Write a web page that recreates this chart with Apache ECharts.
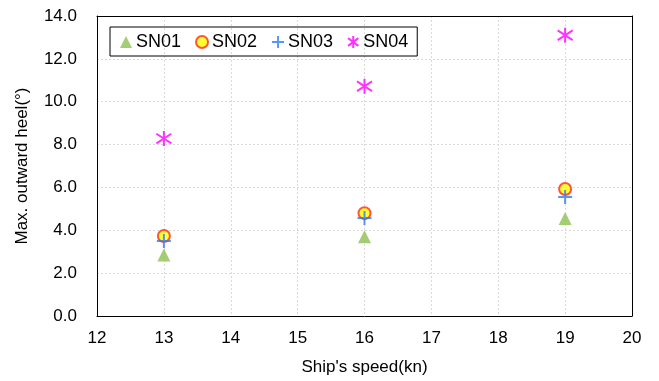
<!DOCTYPE html>
<html><head><meta charset="utf-8">
<script src="https://cdn.jsdelivr.net/npm/echarts@6/dist/echarts.min.js"></script>
<style>html,body{margin:0;padding:0;background:#fff}#c{width:659px;height:381px}</style>
</head><body><div id="c"></div>
<script>
const speeds = [13, 16, 19];
const sn01 = [2.85, 3.7, 4.55];
const sn02 = [3.73, 4.8, 5.93];
const sn03 = [3.5, 4.57, 5.55];
const sn04 = [8.28, 10.72, 13.1];
const seriesNames = ['SN01', 'SN02', 'SN03', 'SN04'];

const F = '"Liberation Sans", Arial, sans-serif';
const pair = a => speeds.map((s, i) => [s, a[i]]);
const plusPath = 'path://M0,-6L0,6M-6,0L6,0';
const starPath = 'path://M0,-7L0,7M-6,-4.5L6,4.5M-6,4.5L6,-4.5';
const dash = {show: true, lineStyle: {color: '#d9d9d9', type: [2, 2]}};
const frameLine = {show: true, onZero: false, lineStyle: {color: '#000', width: 1}};

const chart = echarts.init(document.getElementById('c'));
chart.setOption({
  animation: false,
  grid: {left: 97, right: 27, top: 16, bottom: 65},
  legend: {
    left: 110, top: 27, itemGap: 14, itemWidth: 12, itemHeight: 12,
    padding: [6, 9, 5, 10],
    borderColor: '#000', borderWidth: 1,
    textStyle: {fontFamily: F, fontSize: 18, color: '#000', padding: [0, 0, 0, -1]},
    data: seriesNames
  },
  xAxis: [{
    type: 'value', min: 12, max: 20, interval: 1,
    name: "Ship's speed(kn)", nameLocation: 'middle', nameGap: 43,
    nameTextStyle: {fontFamily: F, fontSize: 17, color: '#000'},
    axisLine: frameLine, axisTick: {show: false},
    axisLabel: {fontFamily: F, fontSize: 17, color: '#000', margin: 14},
    splitLine: dash
  }, {
    type: 'value', position: 'top', min: 12, max: 20, interval: 1, z: 5,
    axisLine: frameLine, axisTick: {show: false}, axisLabel: {show: false}, splitLine: {show: false}
  }],
  yAxis: [{
    type: 'value', min: 0, max: 14, interval: 2,
    name: 'Max. outward heel(°)', nameLocation: 'middle', nameGap: 66,
    nameTextStyle: {fontFamily: F, fontSize: 17, color: '#000'},
    axisLine: frameLine, axisTick: {show: false},
    axisLabel: {fontFamily: F, fontSize: 17, color: '#000', margin: 20,
      formatter: v => v.toFixed(1)},
    splitLine: dash
  }, {
    type: 'value', position: 'right', min: 0, max: 14, interval: 2, z: 5,
    axisLine: frameLine, axisTick: {show: false}, axisLabel: {show: false}, splitLine: {show: false}
  }],
  series: [
    {name: 'SN01', type: 'scatter', symbol: 'triangle', symbolSize: 13,
     itemStyle: {color: '#8dc152'}, data: pair(sn01)},
    {name: 'SN02', type: 'scatter', symbol: 'circle', symbolSize: 12,
     itemStyle: {color: '#ffff00', borderColor: '#ff2a1a', borderWidth: 2}, data: pair(sn02)},
    {name: 'SN03', type: 'scatter', symbol: plusPath, symbolSize: 14,
     itemStyle: {color: 'rgba(0,0,0,0)', borderColor: '#2f7cf6', borderWidth: 2}, data: pair(sn03)},
    {name: 'SN04', type: 'scatter', symbol: starPath, symbolSize: 15,
     itemStyle: {color: 'rgba(0,0,0,0)', borderColor: '#ff00ff', borderWidth: 2}, data: pair(sn04)}
  ]
});
</script></body></html>
